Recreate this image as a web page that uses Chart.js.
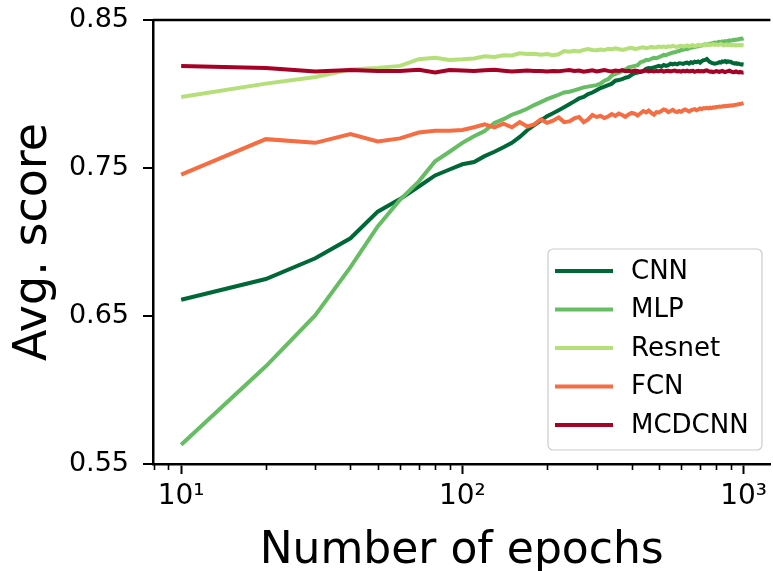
<!DOCTYPE html>
<html>
<head>
<meta charset="utf-8">
<script src="https://cdn.jsdelivr.net/npm/chart.js@4.4.1/dist/chart.umd.min.js"></script>
<style>
html,body{margin:0;padding:0;background:#fff;overflow:hidden;}
#wrap{width:773px;height:571px;position:relative;}
</style>
</head>
<body>
<div id="wrap"><canvas id="c" width="773" height="571"></canvas></div>
<script>
const epochs = [10,20,30,40,50,60,70,80,90,100,110,120,130,140,150,160,170,180,190,200,210,220,230,240,250,260,270,280,290,300,310,320,330,340,350,360,370,380,390,400,410,420,430,440,450,460,470,480,490,500,510,520,530,540,550,560,570,580,590,600,610,620,630,640,650,660,670,680,690,700,710,720,730,740,750,760,770,780,790,800,810,820,830,840,850,860,870,880,890,900,910,920,930,940,950,960,970,980,990,1000];

const seriesNames = ["CNN","MLP","Resnet","FCN","MCDCNN"];
const seriesColors = ["#006837","#66bd63","#b5df78","#f46d43","#a50026"];

const cnn = [0.661,0.675,0.689,0.7025,0.7205,0.729,0.7375,0.745,0.749,0.7525,
0.754,0.758,0.761,0.764,0.767,0.771,0.7755,0.779,0.782,0.785,
0.787,0.789,0.791,0.793,0.795,0.797,0.798,0.800,0.801,0.8025,
0.804,0.805,0.806,0.807,0.809,0.8095,0.810,0.811,0.8115,0.813,
0.814,0.8145,0.815,0.8155,0.817,0.8175,0.8174,0.818,0.8185,0.819,
0.8185,0.8196,0.819,0.8195,0.8205,0.820,0.8205,0.820,0.8208,0.8207,
0.8203,0.821,0.8212,0.8205,0.8215,0.821,0.8218,0.8215,0.822,0.8212,
0.8222,0.8228,0.823,0.8236,0.8225,0.8215,0.821,0.8208,0.8205,0.8207,
0.821,0.8215,0.8212,0.822,0.8218,0.8222,0.8215,0.822,0.8218,0.8218,
0.8212,0.8208,0.8205,0.8208,0.8203,0.8205,0.8202,0.820,0.8201,0.820];

const mlp = [0.563,0.616,0.6505,0.683,0.7105,0.7285,0.741,0.7545,0.761,0.767,
0.7715,0.775,0.7805,0.783,0.786,0.788,0.790,0.7925,0.7945,0.7965,
0.798,0.7995,0.801,0.8015,0.8025,0.8035,0.8045,0.805,0.8055,0.806,
0.807,0.809,0.810,0.8125,0.8135,0.8145,0.8155,0.8165,0.818,0.8185,
0.819,0.8195,0.8215,0.822,0.823,0.823,0.8238,0.8245,0.8242,0.825,
0.8255,0.8264,0.8262,0.827,0.8275,0.828,0.8282,0.8288,0.829,0.8297,
0.8298,0.8305,0.8303,0.831,0.8312,0.8315,0.8318,0.832,0.8322,0.8325,
0.8328,0.833,0.8335,0.8332,0.8338,0.834,0.8342,0.8345,0.8348,0.8345,
0.835,0.8352,0.8348,0.8355,0.8352,0.8357,0.8355,0.8358,0.8362,0.836,
0.8363,0.8366,0.8364,0.8368,0.8367,0.837,0.8372,0.8374,0.8373,0.8376];

const resnet = [0.798,0.807,0.8115,0.8165,0.8175,0.819,0.8235,0.8245,0.823,0.8234,
0.824,0.8255,0.825,0.8262,0.826,0.8275,0.827,0.8272,0.8265,0.827,
0.8262,0.8268,0.829,0.8285,0.8292,0.8288,0.8298,0.8304,0.8298,0.8296,
0.830,0.8297,0.8305,0.8302,0.8308,0.8304,0.8298,0.8302,0.831,0.8312,
0.8305,0.8308,0.8312,0.8315,0.8309,0.8313,0.8318,0.8314,0.8316,0.8321,
0.8318,0.832,0.8315,0.8322,0.8319,0.8325,0.8321,0.8318,0.8323,0.8326,
0.832,0.8324,0.8328,0.8322,0.8326,0.833,0.8324,0.8327,0.8332,0.8328,
0.833,0.8334,0.8329,0.8333,0.8336,0.833,0.8333,0.8337,0.8332,0.8335,
0.8331,0.8334,0.8338,0.8333,0.8329,0.8332,0.8335,0.833,0.8333,0.8331,
0.8328,0.8332,0.833,0.8327,0.833,0.8328,0.8331,0.8329,0.833,0.8328];

const fcn = [0.7455,0.7695,0.767,0.773,0.768,0.770,0.774,0.7752,0.7752,0.7757,
0.7775,0.7795,0.7775,0.780,0.7775,0.781,0.778,0.7795,0.7828,0.7805,
0.782,0.7842,0.781,0.7815,0.7835,0.7845,0.781,0.7828,0.7858,0.7845,
0.7852,0.7838,0.7848,0.7865,0.7852,0.7868,0.7858,0.7845,0.7862,0.7872,
0.7868,0.7855,0.787,0.7885,0.7875,0.7888,0.7872,0.786,0.7878,0.7875,
0.7885,0.7896,0.789,0.7878,0.7885,0.7893,0.7882,0.7878,0.7885,0.788,
0.789,0.7896,0.7888,0.7882,0.789,0.7895,0.7898,0.789,0.7895,0.7902,
0.7898,0.7905,0.7902,0.7906,0.7903,0.7908,0.7905,0.791,0.7908,0.7912,
0.7913,0.7915,0.7914,0.7916,0.7918,0.7917,0.792,0.7919,0.7922,0.7921,
0.7924,0.7923,0.7926,0.7928,0.7929,0.7931,0.7933,0.7934,0.7936,0.7938];

const mcdcnn = [0.819,0.8175,0.8152,0.8162,0.8155,0.8156,0.8163,0.8145,0.8162,0.8158,
0.8155,0.816,0.8163,0.8157,0.8152,0.8155,0.8158,0.8156,0.8155,0.8152,
0.8155,0.8153,0.8158,0.8162,0.8155,0.8158,0.815,0.8155,0.816,0.8153,
0.8157,0.8162,0.8156,0.8152,0.8158,0.8155,0.8161,0.8154,0.8157,0.8152,
0.8159,0.8156,0.815,0.8155,0.8158,0.8153,0.8157,0.8152,0.8156,0.8154,
0.8158,0.8151,0.8155,0.8157,0.8152,0.8156,0.8159,0.8153,0.8155,0.8151,
0.8156,0.8153,0.8158,0.8152,0.8155,0.8157,0.815,0.8154,0.8156,0.8152,
0.8155,0.8153,0.8157,0.816,0.8154,0.815,0.8152,0.8148,0.8151,0.8155,
0.8152,0.8149,0.8153,0.8156,0.8151,0.8148,0.8152,0.8155,0.8158,0.8153,
0.815,0.8147,0.8149,0.8152,0.8148,0.8146,0.8149,0.8147,0.8145,0.8146];

const yTicks = [0.55,0.65,0.75,0.85];
const xMajorTicks = [10,100,1000];
const xMinorTicks = [8,9,20,30,40,50,60,70,80,90,200,300,400,500,600,700,800,900];
const xTickLabels = {10:"10\u00B9",100:"10\u00B2",1000:"10\u00B3"};
const xTitle = "Number of epochs";
const yTitle = "Avg. score";

const seriesValues = [cnn, mlp, resnet, fcn, mcdcnn];
const FONT = "'DejaVu Sans', sans-serif";

const datasets = seriesNames.map((name, i) => ({
  label: name,
  data: epochs.map((e, j) => ({x: e, y: seriesValues[i][j]})),
  borderColor: seriesColors[i],
  backgroundColor: seriesColors[i],
  borderWidth: 4,
  pointRadius: 0,
  tension: 0,
  order: seriesNames.length - i
}));

const frame = {
  id: 'frame',
  afterDatasetsDraw(chart) {
    const ctx = chart.ctx, a = chart.chartArea;
    const xs = chart.scales.x, ys = chart.scales.y;
    ctx.save();
    ctx.strokeStyle = '#000';
    ctx.lineWidth = 2.5;
    ctx.beginPath();
    ctx.moveTo(a.left, a.top);
    ctx.lineTo(a.right, a.top);
    ctx.stroke();
    ctx.lineWidth = 2;
    yTicks.forEach(v => {
      const py = Math.round(ys.getPixelForValue(v));
      ctx.beginPath();
      ctx.moveTo(a.left, py);
      ctx.lineTo(a.left - 10, py);
      ctx.stroke();
    });
    ctx.lineWidth = 1.6;
    xMinorTicks.forEach(v => {
      const px = Math.round(xs.getPixelForValue(v)) + 0.5;
      ctx.beginPath();
      ctx.moveTo(px, a.bottom);
      ctx.lineTo(px, a.bottom + 6);
      ctx.stroke();
    });
    ctx.restore();
  },
  afterDraw(chart) {
    const ctx = chart.ctx;
    const bx = 548, by = 249, bw = 214, bh = 201, r = 5;
    ctx.save();
    ctx.globalAlpha = 0.8;
    ctx.fillStyle = '#fff';
    ctx.strokeStyle = '#cccccc';
    ctx.lineWidth = 1.2;
    ctx.beginPath();
    ctx.moveTo(bx + r, by);
    ctx.arcTo(bx + bw, by, bx + bw, by + bh, r);
    ctx.arcTo(bx + bw, by + bh, bx, by + bh, r);
    ctx.arcTo(bx, by + bh, bx, by, r);
    ctx.arcTo(bx, by, bx + bw, by, r);
    ctx.closePath();
    ctx.fill();
    ctx.globalAlpha = 1;
    ctx.stroke();
    ctx.font = "26px " + FONT;
    ctx.textBaseline = 'middle';
    ctx.fillStyle = '#000';
    chart.data.datasets.forEach((ds, i) => {
      const y = 271 + i * 38.5;
      ctx.strokeStyle = ds.borderColor;
      ctx.lineWidth = 4;
      ctx.beginPath();
      ctx.moveTo(555, y);
      ctx.lineTo(613, y);
      ctx.stroke();
      ctx.fillText(ds.label, 631, y + 1);
    });
    ctx.restore();
  }
};

new Chart(document.getElementById('c'), {
  type: 'line',
  data: { datasets },
  plugins: [frame],
  options: {
    responsive: false,
    animation: false,
    devicePixelRatio: 1,
    layout: { padding: { left: 0, right: 0, top: 20, bottom: 0 } },
    plugins: { legend: { display: false }, tooltip: { enabled: false } },
    scales: {
      x: {
        type: 'logarithmic',
        min: 7.94,
        max: 1246,
        afterFit(s) { s.height = 107; },
        afterBuildTicks(s) { s.ticks = xMajorTicks.map(v => ({value: v})); },
        border: { display: true, color: '#000', width: 2.5 },
        grid: { drawOnChartArea: false, drawTicks: true, tickLength: 10, tickWidth: 2, tickColor: '#000' },
        ticks: {
          autoSkip: false, maxRotation: 0, padding: 6, color: '#000',
          font: { family: FONT, size: 28 },
          callback: (v) => xTickLabels[v] || ''
        },
        title: { display: true, text: xTitle, color: '#000', font: { family: FONT, size: 44, lineHeight: 1 }, padding: { top: 0, bottom: -3 } }
      },
      y: {
        min: 0.55,
        max: 0.85,
        afterFit(s) { s.width = 153; },
        afterBuildTicks(s) { s.ticks = yTicks.map(v => ({value: v})); },
        border: { display: true, color: '#000', width: 2.5 },
        grid: { drawOnChartArea: false, drawTicks: true, tickLength: 24, tickWidth: 0, tickColor: 'rgba(0,0,0,0)' },
        ticks: {
          padding: 0, color: '#000',
          font: { family: FONT, size: 27 },
          callback: (v) => Number(v).toFixed(2)
        },
        title: { display: true, text: yTitle, color: '#000', font: { family: FONT, size: 46 }, padding: { top: 6, bottom: 0 } }
      }
    }
  }
});
</script>
</body>
</html>
